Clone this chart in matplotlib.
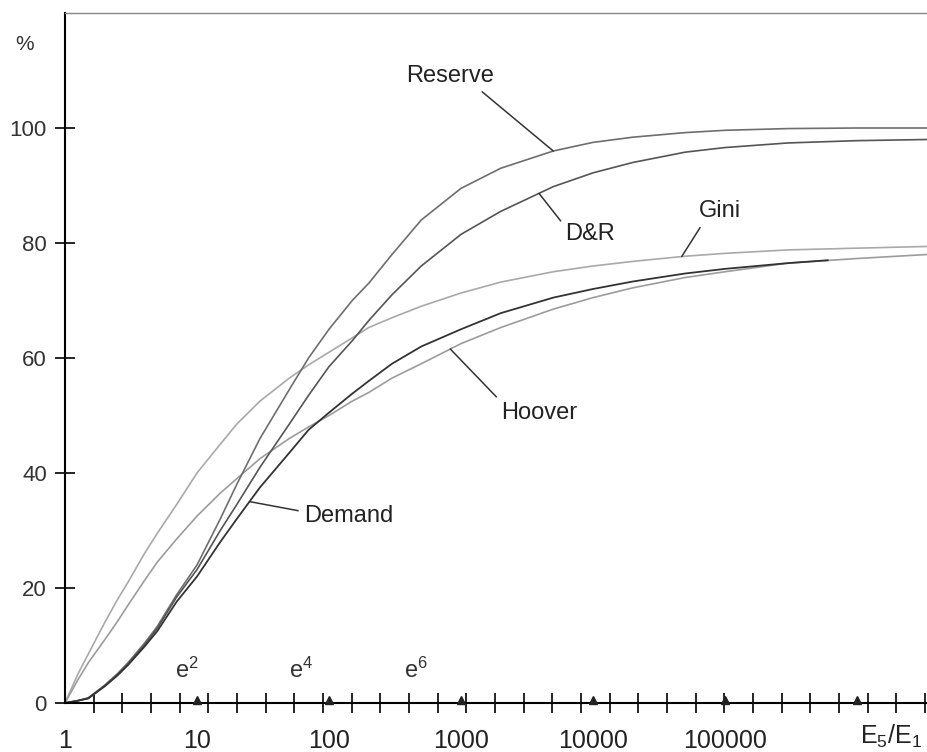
import numpy as np
import matplotlib
matplotlib.use('Agg')
import matplotlib.pyplot as plt
from matplotlib.transforms import ScaledTranslation

plt.rcParams['font.family'] = ['Liberation Sans', 'DejaVu Sans']
plt.rcParams['mathtext.fontset'] = 'custom'
plt.rcParams['mathtext.rm'] = 'Liberation Sans'
plt.rcParams['mathtext.it'] = 'Liberation Sans'

# E5/E1 ratio (x) and index values in %
ratio = [1, 1.25, 1.5, 2, 2.5, 3, 4, 5, 7, 10, 15, 20, 30, 50, 70, 100, 150, 200, 300,
         500, 1e3, 2e3, 5e3, 1e4, 2e4, 5e4, 1e5, 3e5, 1e6, 3.4e6]
reserve = [0, 0.4, 0.9, 3.1, 5.1, 7, 10.4, 13.3, 18.8, 24, 32, 38, 46, 54.5, 60, 65, 70, 73, 78,
           84, 89.5, 93, 96, 97.5, 98.4, 99.2, 99.6, 99.9, 100, 100]
dr = [0, 0.4, 0.8, 3.0, 5, 6.8, 10.1, 13, 18.4, 23.2, 30, 34.5, 41, 48.5, 53.5, 58.5, 63, 66.5, 71,
      76, 81.5, 85.5, 89.8, 92.2, 94, 95.8, 96.6, 97.4, 97.8, 98]
gini = [0, 5, 8.5, 14, 18, 21, 26, 29.5, 34.5, 40, 45, 48.5, 52.5, 56.5, 58.8, 61, 63.5, 65.3, 67,
        69, 71.3, 73.2, 75, 76, 76.8, 77.7, 78.2, 78.8, 79.1, 79.4]
hoover = [0, 4, 7, 11, 14.2, 17, 21.3, 24.5, 28.5, 32.5, 36.5, 39, 42.5, 46, 48, 50, 52.5, 54, 56.5,
          59, 62.5, 65.3, 68.5, 70.5, 72.2, 74, 75, 76.5, 77.3, 78]
demand_ratio = ratio[:28] + [6e5]
demand = [0, 0.4, 0.8, 2.9, 4.8, 6.6, 9.8, 12.5, 17.6, 22, 28, 32, 37.5, 43.5, 47.5, 50.5, 53.8, 56, 59,
          62, 65, 67.8, 70.5, 72, 73.3, 74.7, 75.5, 76.5, 77]

decades = [1, 10, 100, 1000, 10000, 100000]
decade_labels = ['1', '10', '100', '1000', '10000', '100000']
marks = [10, 100, 1000, 1e4, 1e5, 1e6]
y_ticks = [0, 20, 40, 60, 80, 100]

fig = plt.figure(figsize=(9.27, 7.52), dpi=100)
ax = fig.add_axes([65/927, 49/752, 1 - 65/927, (703 - 13)/752])

ax.plot(ratio, gini, color='#a9a9a9', lw=1.2)
ax.plot(ratio, hoover, color='#9c9c9c', lw=1.2)
ax.plot(ratio, reserve, color='#6e6e6e', lw=1.2)
ax.plot(ratio, dr, color='#555555', lw=1.2)
ax.plot(demand_ratio, demand, color='#333333', lw=1.3)

ax.set_xscale('log')
ax.set_xlim(1, 10 ** (862 / 132))
ax.set_ylim(0, 120)

ax.spines['right'].set_visible(False)
ax.spines['top'].set_color('#888888')
ax.spines['top'].set_linewidth(1.0)
ax.spines['left'].set_linewidth(1.5)
ax.spines['bottom'].set_linewidth(1.5)

# x: labels at decades, tick marks every e^0.5
ax.set_xticks(decades)
ax.set_xticklabels(decade_labels)
ax.set_xticks(np.exp(0.5 * np.arange(1, 31)), minor=True)
ax.xaxis.set_minor_formatter(plt.NullFormatter())
ax.tick_params(axis='x', which='major', length=0, pad=19, labelsize=18, colors='#222222')
ax.tick_params(axis='x', which='minor', direction='inout', length=14, width=1.2, color='black')

ax.set_yticks(y_ticks)
ax.tick_params(axis='y', direction='inout', length=14, width=1.2, pad=6, labelsize=16,
               labelcolor='#333333')

# decade triangles on the axis
shift = ScaledTranslation(0, 3 / 100, fig.dpi_scale_trans)
ax.plot(marks, [0] * len(marks), ls='none', marker='^', ms=6, color='#222222',
        clip_on=False, transform=ax.transData + shift, zorder=5)

for k in [2, 4, 6]:
    ax.text(np.exp(k) * 10 ** (7 / 132), 3.5, 'e$^{%d}$' % k, fontsize=17, ha='center',
            va='bottom', color='#333333')

fig.text(25/927, 1 - 45/752, '%', fontsize=15, ha='center', va='center', color='#333333')
fig.text(891/927, 1 - 736/752, 'E$_5$/E$_1$', fontsize=18, ha='center', va='center',
         color='#222222')

lab = dict(fontsize=17, color='#222222')
line = dict(arrowstyle='-', color='#333333', lw=1.1, shrinkA=2, shrinkB=0)


def point(xs, ys, x):
    return x, np.interp(np.log10(x), np.log10(xs), ys)


ax.annotate('Reserve', xy=point(ratio, reserve, 5000), xytext=(830, 109), ha='center',
            va='center', arrowprops=dict(line, relpos=(0.8, 0)), **lab)
ax.annotate('D&R', xy=point(ratio, dr, 3900), xytext=(9500, 81.5), ha='center', va='center',
            arrowprops=dict(line, relpos=(0.0, 0.85)), **lab)
ax.annotate('Gini', xy=point(ratio, gini, 47000), xytext=(92000, 85.5), ha='center',
            va='center', arrowprops=dict(line, relpos=(0.1, 0)), **lab)
ax.annotate('Hoover', xy=point(ratio, hoover, 830), xytext=(3900, 50.5), ha='center',
            va='center', arrowprops=dict(line, relpos=(0.0, 1.0)), **lab)
ax.annotate('Demand', xy=point(demand_ratio, demand, 25), xytext=(140, 32.5), ha='center',
            va='center', arrowprops=dict(line, relpos=(0.0, 0.7)), **lab)

fig.savefig('out.png', dpi=100)
